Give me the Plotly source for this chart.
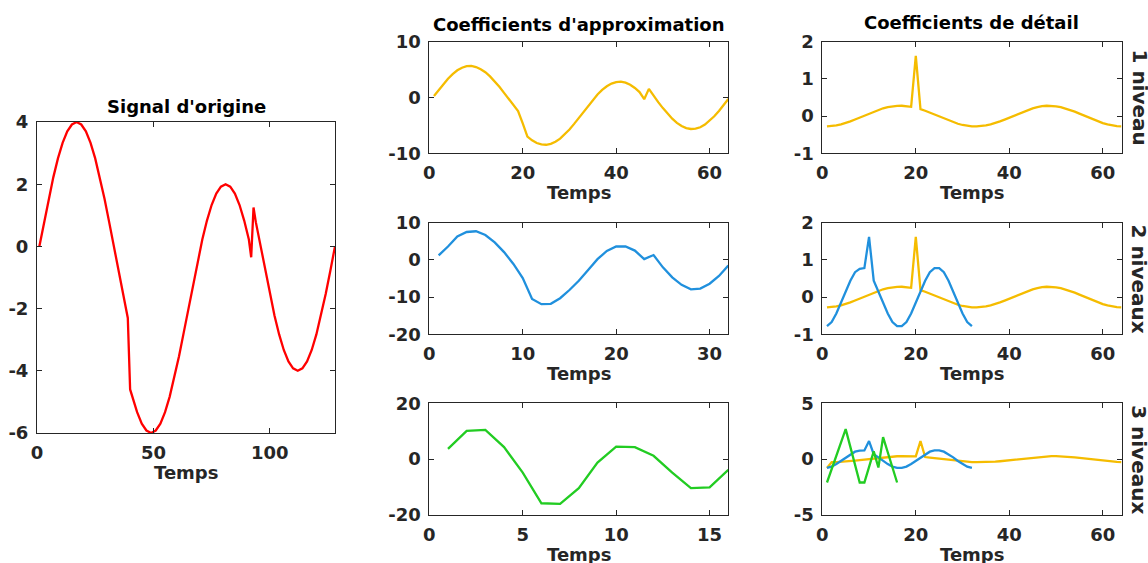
import plotly.graph_objects as go

W, H = 1148, 563

# ---------------- data ----------------
t_orig = [1, 3, 5, 7, 9, 11, 13, 15, 17, 19, 21, 23, 25, 27, 29, 31, 33, 35, 37, 39,
          40, 41, 43, 45, 47, 49, 51, 53, 55, 57, 59, 61, 63, 65, 67, 69, 71, 73, 75, 77,
          79, 81, 83, 85, 87, 89, 91, 92, 93, 94, 96, 98, 100, 102, 104, 106, 108, 110,
          112, 114, 116, 118, 120, 122, 124, 126, 128]
s_orig = [0, 0.78, 1.53, 2.22, 2.83, 3.33, 3.70, 3.92, 4.00, 3.92, 3.70, 3.33, 2.83, 2.22,
          1.53, 0.78, 0, -0.78, -1.53, -2.30,
          -4.60, -4.83, -5.33, -5.70, -5.92, -6.00, -5.92, -5.70, -5.33, -4.83, -4.22, -3.53,
          -2.78, -2.00, -1.22, -0.47, 0.22, 0.83, 1.33, 1.70, 1.92, 2.00, 1.92, 1.70, 1.33,
          0.83, 0.22, -0.35, 1.25, 0.78, 0, -0.78, -1.53, -2.22, -2.83, -3.33, -3.70, -3.92,
          -4.00, -3.92, -3.70, -3.33, -2.83, -2.22, -1.53, -0.78, 0]

approx1 = [0.28, 1.37, 2.42, 3.37, 4.20, 4.87, 5.33, 5.61, 5.65, 5.46, 5.06, 4.53, 3.78, 2.91,
           1.92, 0.83, -0.28, -1.37, -2.42, -4.65, -7.00, -7.68, -8.15, -8.41, -8.47, -8.31,
           -7.94, -7.37, -6.63, -5.73, -4.73, -3.66, -2.55, -1.46, -0.42, 0.54, 1.36, 2.02,
           2.50, 2.76, 2.83, 2.65, 2.28, 1.71, 0.97, -0.30, 1.55, 0.28, -0.83, -1.90, -2.90,
           -3.80, -4.54, -5.11, -5.48, -5.64, -5.59, -5.33, -4.85, -4.19, -3.37, -2.41,
           -1.37, -0.28]
approx2 = [1.2, 3.6, 6.3, 7.5, 7.7, 6.7, 4.7, 2.1, -1.1, -4.9, -10.5, -11.9, -11.8, -10.3,
           -8.1, -5.6, -2.7, 0.2, 2.4, 3.6, 3.6, 2.5, 0.2, 1.3, -2.0, -4.7, -6.7, -7.9, -7.7,
           -6.4, -4.3, -1.5]
approx3 = [3.7, 10.1, 10.5, 4.3, -4.8, -15.8, -16.0, -10.4, -1.2, 4.5, 4.3, 1.2, -4.8,
           -10.4, -10.1, -3.8]

detail1 = [-0.278, -0.27, -0.25, -0.22, -0.19, -0.14, -0.09, -0.04, 0.01, 0.07, 0.12, 0.17,
           0.21, 0.24, 0.26, 0.275, 0.278, 0.27, 0.25, 1.62, 0.187, 0.143, 0.094, 0.041,
           -0.014, -0.068, -0.119, -0.165, -0.206, -0.239, -0.262, -0.275, -0.278, -0.27,
           -0.251, -0.223, -0.187, -0.143, -0.094, -0.041, 0.014, 0.068, 0.119, 0.165, 0.206,
           0.239, 0.27, 0.278, 0.275, 0.262, 0.239, 0.206, 0.165, 0.119, 0.068, 0.014, -0.041,
           -0.094, -0.143, -0.187, -0.223, -0.251, -0.27, -0.278]
detail2 = [-0.78, -0.67, -0.44, -0.16, 0.16, 0.44, 0.67, 0.76, 0.78, 1.62, 0.44, 0.16, -0.16,
           -0.44, -0.67, -0.78, -0.78, -0.67, -0.44, -0.16, 0.16, 0.44, 0.67, 0.78, 0.78, 0.67,
           0.44, 0.16, -0.16, -0.44, -0.67, -0.78]
detail3 = [-2.09, -0.9, 0.3, 1.5, 2.69, 1.1, -0.5, -2.09, -2.09, -0.7, 0.69, -0.75, 1.97,
           0.62, -0.74, -2.09]
lvl3_yellow_start = -0.8

titles = ["Signal d'origine", "Coefficients d'approximation", "Coefficients de détail"]
row_labels = ["1 niveau", "2 niveaux", "3 niveaux"]
xlabel = "Temps"

# tick values per panel (x ticks, y ticks)
xticks_p = [[0, 50, 100], [0, 20, 40, 60], [0, 10, 20, 30], [0, 5, 10, 15],
            [0, 20, 40, 60], [0, 20, 40, 60], [0, 20, 40, 60]]
yticks_p = [[-6, -4, -2, 0, 2, 4], [-10, 0, 10], [-20, -10, 0, 10], [-20, 0, 20],
            [-1, 0, 1, 2], [-1, 0, 1, 2], [-5, 0, 5]]

RED, YEL, BLUE, GREEN = "#FF0000", "#F5BC00", "#2090DD", "#22CC22"
AX = "#262626"
FONT = "DejaVu Sans"

# ---------------- layout geometry (pixels) ----------------
# (x0, x1, y0_top, y1_bottom, xrange, yrange)
panels = [
    (37, 335, 122, 433, [0, 128], [-6, 4]),
    (429.3, 728.3, 41.7, 153.3, [0, 64], [-10, 10]),
    (429.3, 728.3, 222.7, 334.3, [0, 32], [-20, 10]),
    (429.3, 728.3, 403.3, 515, [0, 16], [-20, 20]),
    (822.3, 1121.5, 41.7, 153.3, [0, 64], [-1, 2]),
    (822.3, 1121.5, 222.7, 334.3, [0, 64], [-1, 2]),
    (822.3, 1121.5, 403.3, 515, [0, 64], [-5, 5]),
]

fig = go.Figure()
layout = dict(width=W, height=H, margin=dict(l=0, r=0, t=0, b=0, autoexpand=False),
              paper_bgcolor="white", plot_bgcolor="white", showlegend=False)
annotations = []

for i, (x0, x1, y0, y1, xr, yr) in enumerate(panels):
    n = "" if i == 0 else str(i + 1)
    common = dict(showline=True, linecolor=AX, linewidth=1, mirror="ticks",
                  ticks="inside", ticklen=5, tickcolor=AX, showgrid=False,
                  zeroline=False, automargin=False, tickmode="array",
                  tickfont=dict(family=FONT, size=18, color=AX, weight="bold"))
    xt, yt = xticks_p[i], yticks_p[i]
    layout["xaxis" + n] = dict(domain=[x0 / W, x1 / W], range=xr,
                               tickvals=xt, ticktext=[str(v) for v in xt],
                               anchor="y" + n, ticklabelstandoff=3, **common)
    layout["yaxis" + n] = dict(domain=[1 - y1 / H, 1 - y0 / H], range=yr,
                               tickvals=yt, ticktext=[str(v) for v in yt],
                               anchor="x" + n, ticklabelstandoff=4, **common)
    annotations.append(dict(text=xlabel, x=(x0 + x1) / 2 / W, y=1 - (y1 + 39) / H,
                            xref="paper", yref="paper", showarrow=False,
                            xanchor="center", yanchor="middle",
                            font=dict(family=FONT, size=18, color=AX, weight="bold")))


def add(i, x, y, color):
    n = "" if i == 0 else str(i + 1)
    fig.add_trace(go.Scatter(x=x, y=y, mode="lines", line=dict(color=color, width=2.3),
                             xaxis="x" + n, yaxis="y" + n, hoverinfo="skip"))


k64 = list(range(1, len(approx1) + 1))
k32 = list(range(1, len(approx2) + 1))
k16 = list(range(1, len(approx3) + 1))

add(0, t_orig, s_orig, RED)
add(1, k64, approx1, YEL)
add(2, k32, approx2, BLUE)
add(3, k16, approx3, GREEN)
add(4, list(range(1, len(detail1) + 1)), detail1, YEL)
add(5, list(range(1, len(detail1) + 1)), detail1, YEL)
add(5, list(range(1, len(detail2) + 1)), detail2, BLUE)
yellow3 = [lvl3_yellow_start] + detail1[:-1]
add(6, list(range(1, len(yellow3) + 1)), yellow3, YEL)
add(6, list(range(1, len(detail2) + 1)), detail2, BLUE)
add(6, list(range(1, len(detail3) + 1)), detail3, GREEN)

# titles
title_pos = [((37 + 335) / 2, 106), ((429.3 + 728.3) / 2, 24), ((822.3 + 1121.5) / 2, 23)]
for txt, (cx, cy) in zip(titles, title_pos):
    annotations.append(dict(text=txt, x=cx / W, y=1 - cy / H, xref="paper", yref="paper",
                            showarrow=False, xanchor="center", yanchor="middle",
                            font=dict(family=FONT, size=18, color="black", weight="bold")))

# row labels on the right
for txt, (y0, y1) in zip(row_labels, [(41.7, 153.3), (222.7, 334.3), (403.3, 515)]):
    annotations.append(dict(text=txt, x=1139 / W, y=1 - (y0 + y1) / 2 / H,
                            xref="paper", yref="paper", showarrow=False, textangle=90,
                            xanchor="center", yanchor="middle",
                            font=dict(family=FONT, size=20, color=AX, weight="bold")))

layout["annotations"] = annotations
fig.update_layout(**layout)
fig.write_html("out.html", config={"displayModeBar": False, "staticPlot": True},
               post_script="document.body.style.margin='0';document.body.style.overflow='hidden';")
